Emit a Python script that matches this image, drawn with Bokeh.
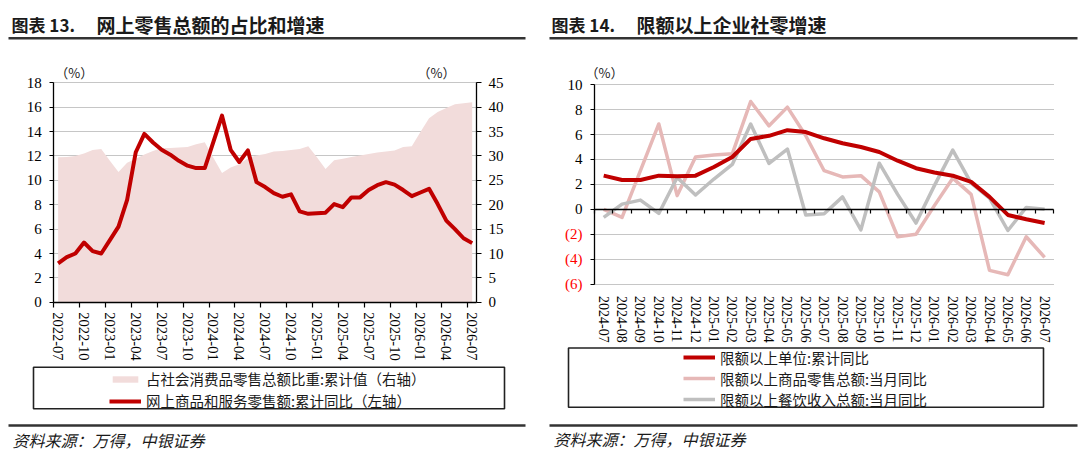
from bokeh.plotting import figure
from bokeh.models import (Range1d, LinearAxis, FixedTicker, Label, BoxAnnotation,
                          Legend, LegendItem, Grid)
from bokeh.layouts import row
from bokeh.embed import file_html
from bokeh.resources import INLINE


def month_labels(y0, m0, n):
    out, y, m = [], y0, m0
    for _ in range(n):
        out.append(f"{y}-{m:02d}")
        m += 1
        if m > 12:
            m, y = 1, y + 1
    return out


# ---------------- data: chart 13 ----------------
months1 = month_labels(2022, 7, 49)
share_of_total = [29.7, 29.8, 30.0, 30.5, 31.2, 31.4, 29.0, 26.7, 28.6, 29.4,
                  30.3, 31.0, 31.6, 31.6, 31.7, 31.8, 32.4, 32.8, 29.6, 26.5,
                  27.6, 28.3, 29.5, 30.1, 30.4, 30.9, 31.0, 31.2, 31.4, 32.0,
                  29.7, 27.3, 29.1, 29.4, 29.8, 30.1, 30.4, 30.7, 30.9, 31.1,
                  31.8, 32.0, 34.9, 37.7, 39.0, 39.8, 40.6, 40.8, 41.0]
online_growth = [3.2, 3.7, 4.0, 4.9, 4.2, 4.0, 5.1, 6.2, 8.4, 12.3,
                 13.8, 13.1, 12.5, 12.1, 11.6, 11.2, 11.0, 11.0, 13.15, 15.3,
                 12.5, 11.5, 12.45, 9.85, 9.45, 8.95, 8.65, 8.85, 7.45, 7.25,
                 7.3, 7.35, 8.05, 7.8, 8.6, 8.6, 9.2, 9.6, 9.85, 9.65,
                 9.2, 8.7, 9.0, 9.3, 8.05, 6.7, 6.0, 5.25, 4.85]
left_ticks = list(range(0, 19, 2))
right_ticks = list(range(0, 46, 5))
legend1_labels = ["占社会消费品零售总额比重:累计值（右轴）",
                  "网上商品和服务零售额:累计同比（左轴）"]

# ---------------- data: chart 14 ----------------
months2 = month_labels(2024, 7, 25)
above_quota_cum = [2.7, 2.35, 2.35, 2.7, 2.65, 2.7, 3.4, 4.2, 5.65, 5.9,
                   6.35, 6.2, 5.7, 5.3, 5.0, 4.6, 3.9, 3.3, 2.95, 2.7,
                   2.2, 1.0, -0.45, -0.8, -1.1]
goods_retail_mom = [0.0, -0.65, 3.1, 6.85, 1.1, 4.2, 4.35, 4.45, 8.65, 6.7,
                    8.2, 5.9, 3.1, 2.6, 2.7, 1.4, -2.2, -2.0, 0.3, 2.5,
                    1.2, -4.9, -5.25, -2.2, -3.85]
catering_mom = [-0.65, 0.42, 0.74, -0.33, 2.56, 1.15, 2.43, 3.6, 6.84, 3.68,
                4.84, -0.45, -0.35, 1.0, -1.65, 3.7, 1.2, -1.1, 1.9, 4.75,
                2.1, 0.9, -1.7, 0.15, 0.0]
y2_ticks = list(range(-6, 11, 2))
legend2_labels = ["限额以上单位:累计同比",
                  "限额以上商品零售总额:当月同比",
                  "限额以上餐饮收入总额:当月同比"]

SERIF = "Liberation Serif"
CJK = "Noto Sans CJK SC"
RED = "#c00000"
PINK_FILL = "#f2dcdb"
PINK = "#e6b8b7"
GRAY = "#bfbfbf"
INK = "#1a1a1a"
RULE = "#333333"

W, H = 540, 475   # each panel's canvas (the frame covers the whole canvas)


def span_range(d0, d1, p0, p1, total):
    """data range for a full-canvas frame where d0 sits at pixel p0, d1 at p1"""
    s = (d1 - d0) / (p1 - p0)
    return Range1d(d0 - p0 * s, d1 + (total - p1) * s)


def make_fig(xr, yr):
    p = figure(width=W, height=H, x_range=xr, y_range=yr,
               output_backend="svg", toolbar_location=None, min_border=0)
    p.title.visible = False
    p.outline_line_color = None
    p.background_fill_color = "white"
    p.border_fill_color = "white"
    p.xgrid.visible = False
    p.ygrid.grid_line_color = "#8c8c8c"
    p.ygrid.grid_line_dash = "1 1"
    p.ygrid.grid_line_width = 1
    return p


def style_axis(ax, size="15px"):
    ax.axis_line_color = "black"
    ax.axis_line_width = 1.3
    ax.major_tick_line_color = "black"
    ax.major_tick_line_width = 1.2
    ax.major_label_text_font = SERIF
    ax.major_label_text_font_size = size
    ax.major_label_text_color = "black"
    ax.minor_tick_in = 0
    ax.minor_tick_out = 0
    ax.major_tick_in = 0


def add_text(p, x, y, text, size, style="normal", font=CJK, color=INK, align="left"):
    p.add_layout(Label(x=x, y=y, x_units="screen", y_units="screen", text=text,
                       text_font=font, text_font_size=size, text_font_style=style,
                       text_color=color, text_align=align, text_baseline="middle"))


def add_box(p, left, right, top, bottom, fill=None, line=None, lw=1.0):
    p.add_layout(BoxAnnotation(left=left, right=right, top=top, bottom=bottom,
                               left_units="screen", right_units="screen",
                               top_units="screen", bottom_units="screen",
                               fill_color=fill if fill else "white",
                               fill_alpha=1 if fill else 0,
                               line_color=line if line else "white",
                               line_width=lw, line_alpha=1 if line else 0))


def grid_extent(p, x0, x1, ticks, y_lo, y_hi):
    p.ygrid.ticker = FixedTicker(ticks=ticks)
    p.ygrid.bounds = (y_lo, y_hi)
    if "cross_bounds" in Grid.properties():
        p.ygrid.cross_bounds = (x0, x1)
        return
    p.ygrid.visible = False
    p.segment(x0=[x0] * len(ticks), x1=[x1] * len(ticks), y0=ticks, y1=ticks,
              line_color="#8c8c8c", line_dash="1 1", line_width=1)


def make_legend(p, items, loc, spacing):
    leg = Legend(items=items, location=loc, orientation="vertical",
                 glyph_width=32, glyph_height=8, label_height=20, spacing=spacing,
                 padding=0, margin=0, label_standoff=5,
                 label_text_font=CJK, label_text_font_size="14.5px",
                 label_text_color=INK, label_text_baseline="middle",
                 border_line_color=None, background_fill_alpha=0)
    p.add_layout(leg)


# ================= chart 13 =================
n1 = len(months1)
x1 = list(range(n1))
p1 = make_fig(span_range(-0.5, n1 - 0.5, 53.3, 476.0, W),
              span_range(left_ticks[0], left_ticks[-1], H - 301.8, H - 82.2, H))
p1.extra_y_ranges = {"right": span_range(right_ticks[0], right_ticks[-1],
                                         H - 301.8, H - 82.2, H)}
grid_extent(p1, -0.5, n1 - 0.5, left_ticks[1:], left_ticks[0], left_ticks[-1])

area = p1.varea(x=x1, y1=0, y2=share_of_total, y_range_name="right",
                fill_color=PINK_FILL, fill_alpha=1)
line1 = p1.line(x1, online_growth, line_color=RED, line_width=4, line_join="round")

xa = p1.xaxis[0]
style_axis(xa, "14.5px")
lab_idx = list(range(0, n1, 3))
xa.fixed_location = left_ticks[0]
xa.bounds = (-0.5, n1 - 0.5)
xa.ticker = FixedTicker(ticks=lab_idx, minor_ticks=[i - 0.5 for i in lab_idx])
xa.major_label_overrides = {i: months1[i] for i in lab_idx}
xa.major_tick_out = 0
xa.minor_tick_out = 5
xa.minor_tick_line_color = "black"
xa.minor_tick_line_width = 1.2
xa.major_label_orientation = "vertical"
xa.major_label_standoff = 5

ya = p1.yaxis[0]
style_axis(ya)
ya.fixed_location = -0.5
ya.bounds = (left_ticks[0], left_ticks[-1])
ya.ticker = FixedTicker(ticks=left_ticks)
ya.major_tick_out = 4
ya.major_label_standoff = 8

ra = LinearAxis(y_range_name="right", ticker=FixedTicker(ticks=right_ticks),
                fixed_location=n1 - 0.5, bounds=(right_ticks[0], right_ticks[-1]))
style_axis(ra)
ra.major_tick_out = 5
ra.major_label_standoff = 7
p1.add_layout(ra, "right")

make_legend(p1, [LegendItem(label=legend1_labels[0], renderers=[area]),
                 LegendItem(label=legend1_labels[1], renderers=[line1])],
            (109, H - 411), 1)

add_text(p1, 11, H - 23.5, "图表 13.", "17px", "bold")
add_text(p1, 96, H - 23.5, "网上零售总额的占比和增速", "19px", "bold")
add_box(p1, 8, 525, H - 36.5, H - 39.0, fill=RULE)
add_text(p1, 73.7, H - 71.7, "（%）", "13px", align="center")
add_text(p1, 436, H - 71.7, "（%）", "13px", align="center")
add_box(p1, 33, 504, H - 366.7, H - 408.3, line="#222222", lw=1.6)
add_box(p1, 8, 525, H - 423.8, H - 426.2, fill=RULE)
add_text(p1, 12, H - 439, "资料来源：万得，中银证券", "16px", "italic")

# ================= chart 14 =================
n2 = len(months2)
x2 = list(range(n2))
p2 = make_fig(span_range(-0.5, n2 - 0.5, 54.0, 513.3, W),
              span_range(y2_ticks[0], y2_ticks[-1], H - 283.6, H - 84.2, H))
grid_extent(p2, -0.5, n2 - 0.5, y2_ticks, y2_ticks[0], y2_ticks[-1])

r_pink = p2.line(x2, goods_retail_mom, line_color=PINK, line_width=3.5, line_join="round")
r_gray = p2.line(x2, catering_mom, line_color=GRAY, line_width=3.5, line_join="round")
r_red = p2.line(x2, above_quota_cum, line_color=RED, line_width=4, line_join="round")

xb = p2.xaxis[0]
style_axis(xb, "14px")
xb.fixed_location = y2_ticks[0]
xb.bounds = (-0.5, n2 - 0.5)
xb.ticker = FixedTicker(ticks=x2)
xb.major_label_overrides = {i: months2[i] for i in x2}
xb.axis_line_color = None
xb.major_tick_out = 0
xb.major_label_orientation = "vertical"
xb.major_label_standoff = 12

zero_axis = LinearAxis(fixed_location=0, bounds=(-0.5, n2 - 0.5),
                       ticker=FixedTicker(ticks=[i - 0.5 for i in range(n2 + 1)]))
style_axis(zero_axis)
zero_axis.major_tick_out = 4
zero_axis.major_label_overrides = {i - 0.5: "" for i in range(n2 + 1)}
p2.add_layout(zero_axis, "below")

yb = p2.yaxis[0]
style_axis(yb)
yb.fixed_location = -0.5
yb.bounds = (y2_ticks[0], y2_ticks[-1])
yb.ticker = FixedTicker(ticks=[v for v in y2_ticks if v >= 0])
yb.major_tick_out = 4
yb.major_label_standoff = 8

neg_ticks = [v for v in y2_ticks if v < 0]
yneg = LinearAxis(fixed_location=-0.5, ticker=FixedTicker(ticks=neg_ticks),
                  major_label_overrides={v: f"({-v})" for v in neg_ticks})
style_axis(yneg)
yneg.axis_line_color = None
yneg.major_tick_out = 4
yneg.major_label_standoff = 8
yneg.major_label_text_color = "#ff0000"
p2.add_layout(yneg, "left")

make_legend(p2, [LegendItem(label=legend2_labels[0], renderers=[r_red]),
                 LegendItem(label=legend2_labels[1], renderers=[r_pink]),
                 LegendItem(label=legend2_labels[2], renderers=[r_gray])],
            (683 - 540, H - 409.5), 0)

add_text(p2, 11, H - 23.5, "图表 14.", "17px", "bold")
add_text(p2, 96, H - 23.5, "限额以上企业社零增速", "19px", "bold")
add_box(p2, 9, 537, H - 36.5, H - 39.0, fill=RULE)
add_text(p2, 64, H - 71.7, "（%）", "13px", align="center")
add_box(p2, 28, 503, H - 347.5, H - 406.7, line="#222222", lw=1.6)
add_box(p2, 9, 537, H - 423.8, H - 426.2, fill=RULE)
add_text(p2, 13, H - 438.6, "资料来源：万得，中银证券", "16px", "italic")

layout = row(p1, p2)
open("out.html", "w").write(file_html(layout, INLINE))
